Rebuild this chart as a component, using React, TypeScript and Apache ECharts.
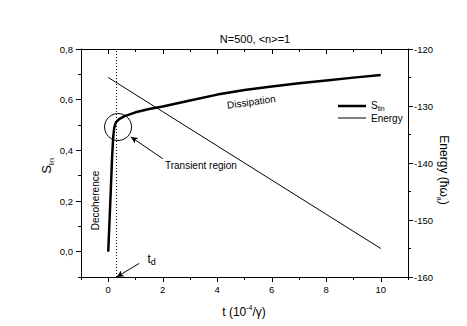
import React, { useEffect, useRef } from "react";
import * as echarts from "echarts";

const tS = [0, 0.05, 0.1, 0.14, 0.18, 0.22, 0.28, 0.4, 0.6, 1.0, 1.5, 2, 3, 4, 5, 6, 7, 8, 9, 10];
const vS = [0, 0.13, 0.26, 0.37, 0.45, 0.49, 0.51, 0.523, 0.535, 0.55, 0.563, 0.573, 0.597, 0.62, 0.638, 0.652, 0.665, 0.676, 0.687, 0.697];
const tE = [0, 2, 4, 6, 8, 10];
const vE = [-125, -131, -137, -143, -149, -155];
const xMajor = [0, 2, 4, 6, 8, 10];
const yLeftMajor = [0, 0.2, 0.4, 0.6, 0.8];
const yRightMajor = [-160, -150, -140, -130, -120];
const TD = 0.28;

const FONT = "'Liberation Sans', Arial, sans-serif";
const BLACK = "#000";

export default function App() {
  const ref = useRef<HTMLDivElement>(null);
  useEffect(() => {
    if (!ref.current) return;
    const chart = echarts.init(ref.current, undefined, { renderer: "svg" });
    const axisLine = { show: true, onZero: false, lineStyle: { color: BLACK, width: 1 } };
    const noLine = { show: false, onZero: false };
    const lbl = { color: BLACK, fontFamily: FONT, fontSize: 9.5 };
    const grid = { left: 81, right: 59, top: 49, bottom: 49 };
    const xBase = { type: "value", min: -1, max: 11, splitLine: { show: false } };
    const option: any = {
      animation: false,
      backgroundColor: "#fff",
      grid,
      title: {
        text: "N=500, <n>=1",
        left: 250,
        top: 28,
        textAlign: "center",
        textStyle: { fontFamily: FONT, fontSize: 11, fontWeight: "normal", color: BLACK },
      },
      xAxis: [
        {
          ...xBase,
          position: "bottom",
          interval: 1,
          axisLine,
          axisTick: { show: true, length: 3, lineStyle: { color: BLACK } },
          axisLabel: { ...lbl, margin: 7, formatter: (v: number) => (Math.round(v) % 2 === 0 ? String(v) : "") },
        },
        {
          ...xBase,
          position: "bottom",
          axisLine: noLine,
          axisTick: { show: true, length: 5, customValues: xMajor, lineStyle: { color: BLACK } },
          axisLabel: { show: false },
        },
        {
          ...xBase,
          position: "top",
          interval: 1,
          axisLine,
          axisTick: { show: true, inside: true, length: 3, lineStyle: { color: BLACK } },
          axisLabel: { show: false },
        },
        {
          ...xBase,
          position: "top",
          axisLine: noLine,
          axisTick: { show: true, inside: true, length: 5, customValues: xMajor, lineStyle: { color: BLACK } },
          axisLabel: { show: false },
        },
      ],
      yAxis: [
        {
          type: "value",
          min: -0.1,
          max: 0.8,
          interval: 0.1,
          position: "left",
          splitLine: { show: false },
          axisLine,
          axisTick: { show: true, length: 3, lineStyle: { color: BLACK } },
          axisLabel: {
            ...lbl,
            margin: 8,
            formatter: (v: number) => {
              const k = Math.round(v * 10);
              return k % 2 === 0 ? (k / 10).toFixed(1).replace(".", ",") : "";
            },
          },
        },
        {
          type: "value",
          min: -160,
          max: -120,
          interval: 5,
          position: "right",
          splitLine: { show: false },
          axisLine,
          axisTick: { show: true, length: 3, lineStyle: { color: BLACK } },
          axisLabel: { ...lbl, margin: 6, formatter: (v: number) => (Math.round(v) % 10 === 0 ? String(v) : "") },
        },
        {
          type: "value",
          min: -0.1,
          max: 0.8,
          position: "left",
          splitLine: { show: false },
          axisLine: noLine,
          axisTick: { show: true, length: 5, customValues: yLeftMajor, lineStyle: { color: BLACK } },
          axisLabel: { show: false },
        },
        {
          type: "value",
          min: -160,
          max: -120,
          position: "right",
          splitLine: { show: false },
          axisLine: noLine,
          axisTick: { show: true, length: 5, customValues: yRightMajor, lineStyle: { color: BLACK } },
          axisLabel: { show: false },
        },
      ],
      series: [
        {
          name: "S_lin",
          type: "line",
          xAxisIndex: 0,
          yAxisIndex: 0,
          data: tS.map((t, i) => [t, vS[i]]),
          symbol: "none",
          lineStyle: { color: BLACK, width: 2.5, join: "round" },
          itemStyle: { color: BLACK },
          markLine: {
            silent: true,
            symbol: ["none", "none"],
            label: { show: false },
            lineStyle: { color: BLACK, width: 1, type: "solid" },
            data: [
              { xAxis: TD, lineStyle: { type: [1, 2], color: BLACK, width: 1 } },
              [
                { coord: [2.0, 0.367], symbol: "none" },
                { coord: [0.83, 0.453], symbol: "arrow", symbolSize: [5, 7] },
              ],
              [
                { coord: [1.14, -0.046], symbol: "none" },
                { coord: [0.31, -0.1], symbol: "arrow", symbolSize: [5, 7] },
              ],
            ],
          },
          markPoint: {
            silent: true,
            label: { show: false },
            data: [
              {
                coord: [0.36, 0.492],
                symbol: "circle",
                symbolSize: 27,
                itemStyle: { color: "rgba(0,0,0,0)", borderColor: BLACK, borderWidth: 1 },
              },
            ],
          },
        },
        {
          name: "Energy",
          type: "line",
          xAxisIndex: 0,
          yAxisIndex: 1,
          data: tE.map((t, i) => [t, vE[i]]),
          symbol: "none",
          lineStyle: { color: BLACK, width: 1 },
          itemStyle: { color: BLACK },
        },
      ],
    };
    chart.setOption(option);

    const px = (t: number, v: number) => chart.convertToPixel({ xAxisIndex: 0, yAxisIndex: 0 }, [t, v]) as number[];
    const pTr = px(3.4, 0.341);
    const pDi = px(5.25, 0.591);
    const pDe = px(-0.45, 0.202);
    const pTd = px(1.44, -0.028);
    const txt = (size: number) => ({ fontFamily: FONT, fontSize: size, fill: BLACK });
    chart.setOption({
      graphic: [
        // legend
        { type: "line", shape: { x1: 338, y1: 106, x2: 366, y2: 106 }, style: { stroke: BLACK, lineWidth: 2.5 } },
        { type: "line", shape: { x1: 338, y1: 118, x2: 366, y2: 118 }, style: { stroke: BLACK, lineWidth: 1 } },
        {
          type: "text",
          x: 371,
          y: 105,
          style: {
            text: "{a|S}{b|lin}",
            align: "left",
            verticalAlign: "middle",
            rich: {
              a: { fontFamily: FONT, fontSize: 10, fill: BLACK, lineHeight: 13 },
              b: { fontFamily: FONT, fontSize: 7, fill: BLACK, verticalAlign: "bottom", lineHeight: 8 },
            },
          },
        },
        { type: "text", x: 371, y: 118, style: { ...txt(10), text: "Energy", align: "left", verticalAlign: "middle" } },
        // annotations
        { type: "text", x: pTr[0], y: pTr[1], style: { ...txt(10), text: "Transient region", align: "center", verticalAlign: "middle" } },
        { type: "text", x: pDi[0], y: pDi[1], rotation: (8 * Math.PI) / 180, style: { ...txt(10), text: "Dissipation", align: "center", verticalAlign: "middle" } },
        { type: "text", x: pDe[0], y: pDe[1], rotation: Math.PI / 2, style: { ...txt(10), text: "Decoherence", align: "center", verticalAlign: "middle" } },
        {
          type: "text",
          x: pTd[0],
          y: pTd[1],
          style: {
            text: "{a|t}{b|d}",
            align: "left",
            verticalAlign: "middle",
            rich: {
              a: { fontFamily: FONT, fontSize: 12, fill: BLACK, lineHeight: 16 },
              b: { fontFamily: FONT, fontSize: 9, fill: BLACK, verticalAlign: "bottom", lineHeight: 9 },
            },
          },
        },
        // axis names
        {
          type: "text",
          x: 244,
          y: 312,
          style: {
            text: "{a|t (10}{b|-4}{a|/γ)}",
            align: "center",
            verticalAlign: "middle",
            rich: {
              a: { fontFamily: FONT, fontSize: 12, fill: BLACK, lineHeight: 16 },
              b: { fontFamily: FONT, fontSize: 7, fill: BLACK, verticalAlign: "top", lineHeight: 8 },
            },
          },
        },
        {
          type: "text",
          x: 46,
          y: 166,
          rotation: Math.PI / 2,
          style: {
            text: "{a|S}{b|lin}",
            align: "center",
            verticalAlign: "middle",
            rich: {
              a: { fontFamily: FONT, fontSize: 13, fill: BLACK, lineHeight: 18 },
              b: { fontFamily: FONT, fontSize: 7, fill: BLACK, verticalAlign: "bottom", lineHeight: 8 },
            },
          },
        },
        {
          type: "text",
          x: 444,
          y: 170,
          rotation: -Math.PI / 2,
          style: {
            text: "{a|Energy (ħω}{b|a}{a|)}",
            align: "center",
            verticalAlign: "middle",
            rich: {
              a: { fontFamily: FONT, fontSize: 12, fill: BLACK, lineHeight: 16 },
              b: { fontFamily: FONT, fontSize: 7, fill: BLACK, verticalAlign: "bottom", lineHeight: 8 },
            },
          },
        },
      ],
    });
    return () => chart.dispose();
  }, []);
  return <div ref={ref} style={{ position: "fixed", left: 0, top: 0, width: 467, height: 326, background: "#fff" }} />;
}
